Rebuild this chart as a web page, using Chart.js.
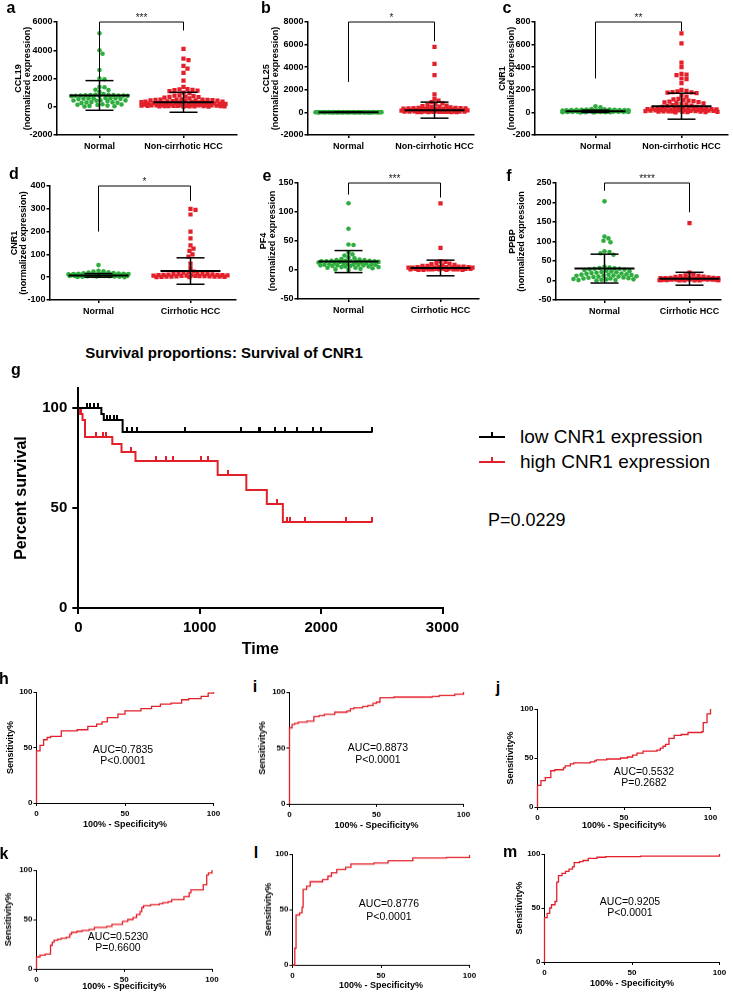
<!DOCTYPE html>
<html>
<head>
<meta charset="utf-8">
<script src="https://cdn.jsdelivr.net/npm/chart.js@4.4.0/dist/chart.umd.min.js"></script>
<style>
body { margin: 0; background: #fff; width: 733px; height: 992px; position: relative; overflow: hidden; font-family: "Liberation Sans", Arial, sans-serif; }
.box { position: absolute; }
.t { position: absolute; line-height: 0; white-space: nowrap; color: #000; }
.c { transform: translateX(-50%); }
.letter { font-weight: bold; font-size: 16px; }
.auc { font-size: 10.5px; }
.swatch { position: absolute; height: 2px; }
</style>
</head>
<body>
<script>
// ---- data: scatter panels a-f ----
const catsNonCirr = ['Normal', 'Non-cirrhotic HCC'];
const catsCirr = ['Normal', 'Cirrhotic HCC'];

// a - CCL19
const ccl19Ticks = [-2000, 0, 2000, 4000, 6000];
const ccl19Normal = [5200, 4000, 3750, 2600, 2000, 1950, 1400, 1380, 1200, 1180, 1050, 900, 850, 840, 830, 820, 810, 800, 800, 790, 780, 770, 760, 750, 620, 610, 600, 590, 580, 570, 560, 540, 460, 450, 440, 420, 400, 330, 310, 300, 280, 260, 180, 160, 140, 120, 80, 60, 40, 20];
const ccl19Hcc = [4100, 3400, 3300, 2900, 2700, 2400, 1850, 1400, 1250, 1230, 1200, 1180, 1150, 1100, 1000, 960, 800, 780, 750, 720, 700, 680, 650, 600, 520, 510, 500, 500, 490, 480, 470, 460, 450, 440, 400, 390, 380, 370, 360, 350, 320, 310, 300, 300, 290, 280, 270, 260, 240, 230, 220, 210, 200, 200, 190, 180, 170, 160, 150, 150, 140, 130, 120, 110, 100, 100, 100, 90, 90, 80, 80, 70, 70, 60, 60, 50, 50, 40, 40, 30, 30, 20, 20, 10, 10];
const ccl19Mean = [800, 315];
const ccl19Sd = [1050, 705];
const ccl19Bracket = [6000, 2000, 5400];

// b - CCL25
const ccl25Ticks = [-2000, 0, 2000, 4000, 6000, 8000];
const ccl25Normal = [40, 38, 35, 33, 30, 30, 28, 27, 25, 25, 24, 22, 20, 20, 19, 18, 17, 16, 15, 15, 14, 13, 12, 12, 11, 10, 10, 9, 9, 8, 8, 7, 7, 6, 6, 5, 5, 5, 4, 4, 3, 3, 3, 2, 2, 2, 1, 1, 1, 0];
const ccl25Hcc = [5800, 4300, 3300, 1600, 1200, 1050, 900, 800, 700, 650, 600, 560, 520, 480, 450, 400, 390, 380, 370, 360, 350, 340, 330, 320, 310, 300, 290, 280, 270, 260, 250, 230, 210, 200, 190, 180, 170, 160, 150, 140, 130, 120, 110, 100, 95, 90, 85, 80, 75, 70, 65, 60, 55, 50, 45, 40, 35, 30, 25, 20, 15];
const ccl25Mean = [12, 200];
const ccl25Sd = [10, 710];
const ccl25Bracket = [8000, 2700, 6300];

// c - CNR1 (non-cirrhotic)
const cnr1NcTicks = [-200, 0, 200, 400, 600, 800];
const cnr1NcNormal = [55, 45, 30, 28, 26, 25, 24, 23, 22, 21, 20, 20, 19, 18, 18, 17, 16, 16, 15, 15, 14, 14, 13, 13, 12, 12, 11, 11, 10, 10, 9, 9, 8, 8, 7, 7, 6, 6, 5, 5, 4, 4, 3, 3, 2, 2, 1, 1, 0, 0];
const cnr1NcHcc = [700, 610, 440, 400, 340, 335, 330, 300, 295, 260, 200, 190, 185, 180, 178, 175, 170, 150, 140, 120, 115, 110, 105, 100, 95, 90, 88, 85, 80, 75, 70, 65, 60, 55, 50, 48, 45, 42, 40, 38, 36, 34, 32, 30, 29, 28, 27, 26, 25, 24, 23, 22, 21, 20, 19, 18, 17, 16, 15, 14, 13, 12, 11, 10, 9, 8, 7, 6, 5, 4, 3, 2, 1];
const cnr1NcMean = [10, 55];
const cnr1NcSd = [10, 115];
const cnr1NcBracket = [800, 300, 720];

// d - CNR1 (cirrhotic)
const cnr1CTicks = [-100, 0, 100, 200, 300, 400];
const cnr1CNormal = [53, 28, 26, 25, 22, 20, 18, 17, 16, 15, 15, 14, 14, 13, 13, 12, 12, 12, 11, 11, 11, 10, 10, 10, 10, 9, 9, 9, 9, 8, 8, 8, 8, 7, 7, 7, 6, 6, 6, 5, 5, 5, 4, 4, 3, 3, 2, 2, 1, 0];
const cnr1CHcc = [300, 295, 275, 200, 170, 140, 125, 115, 100, 90, 60, 40, 25, 22, 20, 18, 16, 15, 14, 13, 12, 11, 10, 10, 9, 9, 8, 8, 7, 7, 6, 6, 5, 5, 4, 4, 3, 3, 2, 2, 1, 1, 0, 0];
const cnr1CMean = [8, 27];
const cnr1CSd = [8, 58];
const cnr1CBracket = [400, 200, 335];

// e - PF4
const pf4Ticks = [-50, 0, 50, 100, 150];
const pf4Normal = [115, 71, 44, 43, 30, 27, 25, 22, 20, 19, 18, 17, 17, 16, 16, 16, 15, 15, 15, 15, 14, 14, 14, 13, 13, 12, 12, 11, 11, 10, 10, 10, 9, 9, 9, 8, 8, 8, 7, 7, 6, 6, 5, 5, 4, 4, 3, 2, 1, 0];
const pf4Hcc = [115, 38, 15, 14, 12, 11, 10, 9, 8, 7, 7, 6, 6, 5, 5, 5, 5, 4, 4, 4, 4, 4, 3, 3, 3, 3, 3, 3, 2, 2, 2, 2, 2, 2, 1, 1, 1, 1, 1, 1, 0, 0, 0, 0];
const pf4Mean = [14.5, 3.5];
const pf4Sd = [19, 13.5];
const pf4Bracket = [150, 130, 125];

// f - PPBP
const ppbpTicks = [-50, 0, 50, 100, 150, 200, 250];
const ppbpNormal = [203, 113, 108, 102, 98, 75, 73, 70, 66, 35, 33, 32, 31, 30, 30, 29, 28, 27, 25, 24, 23, 22, 21, 20, 19, 18, 17, 16, 15, 15, 14, 13, 12, 12, 11, 10, 10, 9, 8, 7, 6, 5, 5, 4, 3, 3, 2, 1, 1, 0];
const ppbpHcc = [147, 20, 15, 13, 12, 11, 10, 9, 8, 8, 7, 7, 6, 6, 6, 5, 5, 5, 5, 4, 4, 4, 4, 4, 3, 3, 3, 3, 3, 3, 2, 2, 2, 2, 2, 1, 1, 1, 1, 1, 0, 0, 0, 0];
const ppbpMean = [30.5, 4.5];
const ppbpSd = [37, 16.5];
const ppbpBracket = [250, 230, 175];

// ---- data: survival (g) ----
const kmTimeTicks = [0, 1000, 2000, 3000];
const kmPctTicks = [0, 50, 100];
const lowTimes = [0, 190, 210, 365, 2420];
const lowSurv = [100, 97, 94, 88, 88];
const lowCensored = [70, 100, 130, 160, 240, 265, 290, 320, 400, 440, 480, 880, 1340, 1490, 1500, 1620, 1700, 1800, 1930, 2000, 2420];
const highTimes = [0, 15, 35, 55, 280, 356, 471, 1148, 1384, 1553, 1685, 2420];
const highSurv = [100, 97, 94, 85.5, 82, 78, 73.5, 66.5, 59, 52, 43, 43];
const highCensored = [25, 143, 200, 225, 431, 637, 725, 780, 1008, 1069, 1233, 1640, 1722, 1745, 1865, 2203, 2420];

// ---- data: ROC curves (h-m) ----
const rocTicks = [0, 50, 100];
const rocHx = [0, 0, 2, 4, 6, 8, 14, 23, 29, 34, 37, 40, 46, 50, 59, 65, 70, 76, 82, 86, 93, 97, 100];
const rocHy = [0, 47, 52, 57, 59, 60, 65, 66, 69, 71, 73, 77, 80, 83, 85, 87, 89, 90, 93, 94, 96, 99, 100];
const rocIx = [0, 0, 1.5, 3, 5, 10, 14, 17, 20, 26, 33, 35, 37, 42, 45, 48, 50, 52, 60, 82, 86, 95, 100];
const rocIy = [0, 68, 71, 72, 73, 74, 78, 79, 80, 82, 83, 85, 86, 87, 88, 90, 91, 95, 95.5, 96, 97, 98, 100];
const rocJx = [0, 0, 2, 4.5, 7.7, 10, 15, 16, 19, 21, 30.5, 33, 34, 40, 48, 52, 55, 57.5, 61, 69, 71, 72.6, 74, 76, 79, 83, 87, 95, 95.8, 98, 100];
const rocJy = [0, 22, 27, 30, 37, 38, 40, 42, 44, 45, 46, 47, 48, 49, 50, 51, 53, 55, 57, 58, 60, 62, 64, 70, 73, 74, 76, 77, 86, 95, 100];
const rocKx = [0, 0, 2, 5, 8, 9, 10, 12, 14, 17, 19, 20, 23, 26, 30, 33, 40, 43, 49, 52, 55, 57, 59, 60, 61, 65, 70, 72, 75, 77, 84, 87, 88, 92, 95, 97, 98, 100];
const rocKy = [0, 12, 14, 15, 24, 27, 29, 30, 31, 32, 35, 37, 38, 39, 40, 42, 43, 45, 48, 50, 52, 55, 58, 62, 64, 65, 66, 67, 68, 70, 73, 77, 80, 80, 85, 95, 97, 100];
const rocLx = [0, 1.3, 2, 4, 5.4, 6, 8, 10, 17, 20, 22, 25, 30, 33, 46, 54, 68, 87, 100];
const rocLy = [0, 15, 45, 47, 52, 68, 71, 75, 77, 80, 83, 86, 88, 91, 92, 94, 96.5, 97, 99];
const rocMx = [0, 0, 1.5, 3, 4, 6, 7, 8, 10, 12, 14, 16, 17, 20, 22, 25, 30, 35, 55, 100];
const rocMy = [0, 41, 45, 50, 53, 56, 74, 80, 82, 84, 86, 88, 92, 93, 94, 96, 97, 97.5, 98, 100];
const aucText = [['AUC=0.7835', 'P<0.0001'], ['AUC=0.8873', 'P<0.0001'], ['AUC=0.5532', 'P=0.2682'], ['AUC=0.5230', 'P=0.6600'], ['AUC=0.8776', 'P<0.0001'], ['AUC=0.9205', 'P<0.0001']];

const GREEN = '#2fae3f';
const RED = '#e3202a';
Chart.defaults.font.family = '"Liberation Sans", Arial, sans-serif';
Chart.defaults.color = '#000';

function holder(box) {
    const d = document.createElement('div');
    d.className = 'box';
    d.style.left = box[0] + 'px';
    d.style.top = box[1] + 'px';
    d.style.width = (box[2] - box[0]) + 'px';
    d.style.height = (box[3] - box[1]) + 'px';
    const c = document.createElement('canvas');
    d.appendChild(c);
    document.body.appendChild(d);
    return c;
}

function txt(s, x, y, cls, center) {
    const d = document.createElement('div');
    d.className = 't ' + cls + (center === false ? '' : ' c');
    d.textContent = s;
    d.style.left = x + 'px';
    d.style.top = y + 'px';
    document.body.appendChild(d);
    return d;
}

// scale config shared by all panels
function axis(o) {
    return {
        type: 'linear', min: o.min, max: o.max,
        afterBuildTicks: s => { s.ticks = o.ticks.map(v => ({ value: v })); },
        afterFit: o.fit,
        ticks: {
            autoSkip: false, maxRotation: 0, padding: o.pad, color: '#000',
            font: { size: o.size, weight: 'bold' },
            callback: o.labels ? (v, i) => o.labels[i] : v => String(v)
        },
        grid: { drawOnChartArea: false, drawTicks: true, tickLength: o.tickLen, color: '#000', lineWidth: o.lineW },
        border: { display: true, color: '#000', width: o.lineW },
        title: o.title ? { display: true, text: o.title, color: '#000', font: { size: o.titleSize, weight: 'bold', lineHeight: 1 }, padding: 0 } : { display: false }
    };
}

function layoutPad(box, area) {
    return { left: 0, top: area[1] - box[1], right: box[2] - area[2], bottom: 0 };
}

// simple beeswarm: offsets in pixels, then back to category units
function swarm(vals, cat, unitPx, pxPerY, dist, maxW) {
    const placed = [];
    vals.slice().sort((a, b) => b - a).forEach(v => {
        const py = v * pxPerY;
        let best = 0, bestD = -1;
        for (let k = 0; k <= 2 * maxW; k++) {
            const off = (k % 2 ? 1 : -1) * Math.ceil(k / 2);
            let md = Infinity;
            placed.forEach(q => {
                const dd = Math.hypot(q.ox - off, q.py - py);
                if (dd < md) md = dd;
            });
            if (md >= dist) { best = off; break; }
            if (md > bestD) { bestD = md; best = off; }
        }
        placed.push({ ox: best, py: py, v: v });
    });
    return placed.map(q => ({ x: cat + q.ox / unitPx, y: q.v }));
}

function errorBars(p) {
    return {
        id: 'errorBars',
        afterDatasetsDraw(chart) {
            const { ctx, scales: { x, y } } = chart;
            ctx.save();
            ctx.strokeStyle = '#000';
            const line = (x1, y1, x2, y2) => { ctx.beginPath(); ctx.moveTo(x1, y1); ctx.lineTo(x2, y2); ctx.stroke(); };
            [0, 1].forEach(i => {
                const cx = x.getPixelForValue(i);
                const m = y.getPixelForValue(p.mean[i]);
                const hi = y.getPixelForValue(p.mean[i] + p.sd[i]);
                const lo = y.getPixelForValue(p.mean[i] - p.sd[i]);
                ctx.lineWidth = 1.5;
                line(cx, hi, cx, lo);
                line(cx - 14, hi, cx + 14, hi);
                line(cx - 14, lo, cx + 14, lo);
                ctx.lineWidth = 2;
                line(cx - 30, m, cx + 30, m);
            });
            const x0 = x.getPixelForValue(0), x1 = x.getPixelForValue(1);
            const yt = y.getPixelForValue(p.bracket[0]);
            ctx.lineWidth = 1;
            ctx.beginPath();
            ctx.moveTo(x0, y.getPixelForValue(p.bracket[1]));
            ctx.lineTo(x0, yt);
            ctx.lineTo(x1, yt);
            ctx.lineTo(x1, y.getPixelForValue(p.bracket[2]));
            ctx.stroke();
            ctx.fillStyle = '#222';
            ctx.font = '10px "Liberation Sans", Arial, sans-serif';
            ctx.textAlign = 'center';
            ctx.textBaseline = 'alphabetic';
            ctx.fillText(p.stars, (x0 + x1) / 2, yt - 1);
            ctx.restore();
        }
    };
}

function scatterPanel(p) {
    const canvas = holder(p.box);
    const [bl, bt, br, bb] = p.box;
    const [al, at, ar, ab] = p.area;
    const unitPx = p.catPx[1] - p.catPx[0];
    const xMin = (al - p.catPx[0]) / unitPx;
    const xMax = 1 + (ar - p.catPx[1]) / unitPx;
    const yMin = p.ticks[0], yMax = p.ticks[p.ticks.length - 1];
    const pxPerY = (ab - at) / (yMax - yMin);
    const green = swarm(p.normal, 0, unitPx, pxPerY, 4.3, p.swarmW[0]);
    const red = swarm(p.hcc, 1, unitPx, pxPerY, 4.3, p.swarmW[1]);
    new Chart(canvas, {
        type: 'scatter',
        data: {
            datasets: [
                { data: green, pointStyle: 'circle', pointRadius: 2.3, backgroundColor: GREEN, borderWidth: 0 },
                { data: red, pointStyle: 'rect', pointRadius: 3, backgroundColor: RED, borderWidth: 0 }
            ]
        },
        options: {
            animation: false, responsive: true, maintainAspectRatio: false,
            layout: { padding: layoutPad(p.box, p.area) },
            plugins: { legend: { display: false }, tooltip: { enabled: false } },
            scales: {
                x: axis({ min: xMin, max: xMax, ticks: [0, 1], labels: p.cats, size: 9, pad: 3, tickLen: 3, lineW: 1.5,
                          fit: s => { s.height = bb - ab; } }),
                y: axis({ min: yMin, max: yMax, ticks: p.ticks, size: 9, pad: 1, tickLen: 3, lineW: 1.5,
                          title: p.title, titleSize: 9, fit: s => { s.width = al - bl; } })
            }
        },
        plugins: [errorBars(p)]
    });
}

function rocPanel(p) {
    const canvas = holder(p.box);
    const [bl, bt, br, bb] = p.box;
    const [al, at, ar, ab] = p.area;
    new Chart(canvas, {
        type: 'line',
        data: {
            datasets: [{
                data: p.xs.map((v, i) => ({ x: v, y: p.ys[i] })),
                stepped: 'before', borderColor: RED, borderWidth: 1.3, pointRadius: 0, fill: false, clip: false
            }]
        },
        options: {
            animation: false, responsive: true, maintainAspectRatio: false,
            layout: { padding: layoutPad(p.box, p.area) },
            plugins: { legend: { display: false }, tooltip: { enabled: false } },
            scales: {
                x: axis({ min: 0, max: 100, ticks: rocTicks, size: 8, pad: 3, tickLen: 3, lineW: 1,
                          title: '100% - Specificity%', titleSize: 9, fit: s => { s.height = bb - ab; } }),
                y: axis({ min: 0, max: 100, ticks: rocTicks, size: 8, pad: 1, tickLen: 3, lineW: 1,
                          title: 'Sensitivity%', titleSize: 9, fit: s => { s.width = al - bl; } })
            }
        }
    });
}

// survival value at time t from a step curve
function kmAt(ts, ss, t) {
    let v = ss[0];
    ts.forEach((tt, i) => { if (tt <= t) v = ss[i]; });
    return v;
}

function censorMark(color) {
    const c = document.createElement('canvas');
    c.width = 2; c.height = 11;
    const g = c.getContext('2d');
    g.fillStyle = color;
    g.fillRect(0, 0, 2, 6);
    return c;
}

function survivalPanel() {
    const box = [13.7, 372, 475, 658];
    const area = [78, 388, 442.2, 608];
    const canvas = holder(box);
    const curve = (ts, ss, color) => ({
        data: ts.map((t, i) => ({ x: t, y: ss[i] })),
        stepped: 'before', borderColor: color, borderWidth: 2, pointRadius: 0, fill: false
    });
    const marks = (cs, ts, ss, color) => ({
        data: cs.map(t => ({ x: t, y: kmAt(ts, ss, t) })),
        showLine: false, pointStyle: censorMark(color), pointRadius: 3
    });
    new Chart(canvas, {
        type: 'line',
        data: {
            datasets: [
                curve(lowTimes, lowSurv, '#000'),
                curve(highTimes, highSurv, RED),
                marks(lowCensored, lowTimes, lowSurv, '#000'),
                marks(highCensored, highTimes, highSurv, RED)
            ]
        },
        options: {
            animation: false, responsive: true, maintainAspectRatio: false,
            layout: { padding: layoutPad(box, area) },
            plugins: { legend: { display: false }, tooltip: { enabled: false } },
            scales: {
                x: axis({ min: 0, max: 3000, ticks: kmTimeTicks, size: 15, pad: 5, tickLen: 6, lineW: 2,
                          title: 'Time', titleSize: 16, fit: s => { s.height = box[3] - area[3]; } }),
                y: axis({ min: 0, max: 110, ticks: kmPctTicks, size: 15, pad: 5, tickLen: 6, lineW: 2,
                          title: 'Percent survival', titleSize: 16, fit: s => { s.width = area[0] - box[0]; } })
            }
        }
    });
}

// ---- build the figure ----
scatterPanel({ title: ['CCL19', '(normalized expression)'], cats: catsNonCirr, ticks: ccl19Ticks, normal: ccl19Normal, hcc: ccl19Hcc,
    mean: ccl19Mean, sd: ccl19Sd, bracket: ccl19Bracket, stars: '***',
    box: [13.5, 6, 241, 155], area: [56, 22, 236, 135], catPx: [99, 183], swarmW: [28, 42] });
scatterPanel({ title: ['CCL25', '(normalized expression)'], cats: catsNonCirr, ticks: ccl25Ticks, normal: ccl25Normal, hcc: ccl25Hcc,
    mean: ccl25Mean, sd: ccl25Sd, bracket: ccl25Bracket, stars: '*',
    box: [261.5, 6, 478, 155], area: [307, 22, 473, 135], catPx: [348, 434], swarmW: [33, 33] });
scatterPanel({ title: ['CNR1', '(normalized expression)'], cats: catsNonCirr, ticks: cnr1NcTicks, normal: cnr1NcNormal, hcc: cnr1NcHcc,
    mean: cnr1NcMean, sd: cnr1NcSd, bracket: cnr1NcBracket, stars: '**',
    box: [497.5, 6, 733, 155], area: [534, 22, 727, 135], catPx: [595, 681], swarmW: [33, 36] });
scatterPanel({ title: ['CNR1', '(normalized expression)'], cats: catsCirr, ticks: cnr1CTicks, normal: cnr1CNormal, hcc: cnr1CHcc,
    mean: cnr1CMean, sd: cnr1CSd, bracket: cnr1CBracket, stars: '*',
    box: [9.5, 170, 240, 320], area: [49, 186, 235, 300], catPx: [98, 190], swarmW: [30, 38] });
scatterPanel({ title: ['PF4', '(normalized expression'], cats: catsCirr, ticks: pf4Ticks, normal: pf4Normal, hcc: pf4Hcc,
    mean: pf4Mean, sd: pf4Sd, bracket: pf4Bracket, stars: '***',
    box: [258.5, 167, 483, 320], area: [297, 183, 478, 299], catPx: [348, 440], swarmW: [30, 32] });
scatterPanel({ title: ['PPBP', '(normalized expression'], cats: catsCirr, ticks: ppbpTicks, normal: ppbpNormal, hcc: ppbpHcc,
    mean: ppbpMean, sd: ppbpSd, bracket: ppbpBracket, stars: '****',
    box: [507.5, 167, 733, 320], area: [555, 183, 720, 300], catPx: [604, 689], swarmW: [33, 30] });

survivalPanel();

rocPanel({ xs: rocHx, ys: rocHy, box: [5.5, 684, 240, 829], area: [36, 692, 213, 803] });
rocPanel({ xs: rocIx, ys: rocIy, box: [257.5, 684, 490, 829.5], area: [289, 692, 463, 803] });
rocPanel({ xs: rocJx, ys: rocJy, box: [505.5, 700, 733, 830], area: [537, 709, 710, 807] });
rocPanel({ xs: rocKx, ys: rocKy, box: [4, 862, 240, 990.5], area: [36.5, 870, 212, 968] });
rocPanel({ xs: rocLx, ys: rocLy, box: [263.5, 846, 490, 989.5], area: [292, 854, 469, 964] });
rocPanel({ xs: rocMx, ys: rocMy, box: [514.5, 846, 733, 988], area: [544, 854, 719, 962] });

// panel letters
[['a', 11, 7.6], ['b', 266, 7.5], ['c', 507, 7.6], ['d', 14, 174], ['e', 267, 175.6], ['f', 509, 176],
 ['g', 16, 370], ['h', 4, 679], ['i', 255, 687], ['j', 498, 687.6], ['k', 4, 854], ['l', 256, 853], ['m', 510, 851.6]]
    .forEach(l => txt(l[0], l[1], l[2], 'letter'));

// AUC labels
const aucPos = [[123, 749, 760], [378, 747, 759], [644, 771, 782], [118, 936, 947], [389, 903, 916], [630, 901, 912]];
aucText.forEach((a, i) => {
    txt(a[0], aucPos[i][0], aucPos[i][1], 'auc');
    txt(a[1], aucPos[i][0], aucPos[i][2], 'auc');
});

// survival title, legend, p value
const kmTitle = txt('Survival proportions: Survival of CNR1', 224, 353, 'letter');
kmTitle.style.fontSize = '15px';
[['low CNR1 expression', '#000', 437.3], ['high CNR1 expression', RED, 462.3]].forEach(r => {
    const s = document.createElement('div');
    s.className = 'swatch';
    s.style.cssText = 'left:479px;width:26px;top:' + (r[2] - 1) + 'px;background:' + r[1];
    document.body.appendChild(s);
    const tk = document.createElement('div');
    tk.className = 'swatch';
    tk.style.cssText = 'left:491px;width:2px;height:5px;top:' + (r[2] - 5) + 'px;background:' + r[1];
    document.body.appendChild(tk);
    const t = txt(r[0], 520, r[2], '', false);
    t.style.fontSize = '19px';
});
const pv = txt('P=0.0229', 488, 520, '', false);
pv.style.fontSize = '18px';
</script>
</body>
</html>
